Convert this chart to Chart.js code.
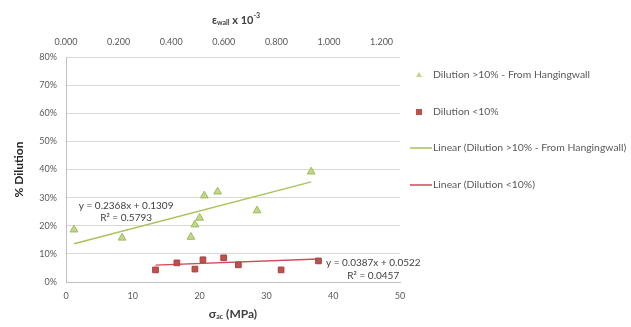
<!DOCTYPE html>
<html>
<head>
<meta charset="utf-8">
<script src="https://cdn.jsdelivr.net/npm/chart.js@4/dist/chart.umd.min.js"></script>
<style>
  html, body { margin: 0; padding: 0; background: #fff; }
  #wrap { width: 631px; height: 327px; }
</style>
</head>
<body>
<div id="wrap"><canvas id="c" width="631" height="327"></canvas></div>
<script>
// data (x = stress in MPa, y = dilution in %)
const hangX = [1.2, 8.4, 18.7, 19.3, 20.0, 20.7, 22.7, 28.6, 36.7];
const hangY = [18.6, 15.7, 16.0, 20.4, 22.8, 30.7, 32.1, 25.4, 39.2];
const lowX = [13.4, 16.6, 19.3, 20.5, 23.6, 25.8, 32.2, 37.8];
const lowY = [4.3, 6.8, 4.6, 7.9, 8.6, 6.1, 4.3, 7.5];
// trendline end points
const hangTrendX = [1.2, 36.7];
const hangTrendY = [13.6, 35.6];
const lowTrendX = [13.4, 37.8];
const lowTrendY = [6.0, 8.2];
const yTicks = [0, 10, 20, 30, 40, 50, 60, 70, 80];
const xTicks = [0, 10, 20, 30, 40, 50];
const topTicks = [0, 0.2, 0.4, 0.6, 0.8, 1.0, 1.2];
const seriesNames = ['Dilution >10% - From Hangingwall', 'Dilution <10%',
  'Linear (Dilution >10% - From Hangingwall)', 'Linear (Dilution <10%)'];
const equations = [
  { text: 'y = 0.2368x + 0.1309', x: 9.0, y: 27.0 },
  { text: 'R² = 0.5793', x: 9.0, y: 22.8 },
  { text: 'y = 0.0387x + 0.0522', x: 46.0, y: 6.8 },
  { text: 'R² = 0.0457', x: 46.0, y: 2.1 }
];

const toPts = (xs, ys) => xs.map((x, i) => ({ x: x, y: ys[i] }));
const FONT = 'Lato, "Open Sans", sans-serif';
const GREEN = '#9bbb59';
const RED = '#c0504d';

// rich text helper for sub/superscripts
function drawRich(ctx, parts, cx, cy) {
  let w = 0;
  parts.forEach(p => { ctx.font = p.font; w += ctx.measureText(p.t).width; });
  let x = cx - w / 2;
  parts.forEach(p => {
    ctx.font = p.font;
    ctx.fillText(p.t, x, cy + (p.dy || 0));
    x += ctx.measureText(p.t).width;
  });
}

const extras = {
  id: 'extras',
  afterDraw(chart) {
    const ctx = chart.ctx;
    const xs = chart.scales.x, ys = chart.scales.y, area = chart.chartArea;
    ctx.save();
    ctx.textBaseline = 'middle';
    ctx.textAlign = 'left';
    ctx.fillStyle = '#404040';
    // equations
    equations.forEach(e => {
      ctx.font = '10px ' + FONT;
      const w = ctx.measureText(e.text).width;
      ctx.fillText(e.text, xs.getPixelForValue(e.x) - w / 2, ys.getPixelForValue(e.y));
    });
    // axis titles
    const cx = (area.left + area.right) / 2;
    drawRich(ctx, [
      { t: 'ε', font: 'bold 11px ' + FONT },
      { t: 'wall', font: 'bold 7px ' + FONT, dy: 3 },
      { t: ' x 10', font: 'bold 11px ' + FONT },
      { t: '-3', font: 'bold 7px ' + FONT, dy: -4 }
    ], cx + 3, 20);
    drawRich(ctx, [
      { t: 'σ', font: 'bold 12px ' + FONT },
      { t: 'ac', font: 'bold 7px ' + FONT, dy: 3 },
      { t: ' (MPa)', font: 'bold 12px ' + FONT }
    ], cx, 314);
    // legend
    const ds = chart.data.datasets;
    const rows = [75, 112, 148, 185];
    ds.forEach((d, i) => {
      const y = rows[i];
      if (d.showLine) {
        ctx.strokeStyle = d.borderColor;
        ctx.lineWidth = 1.5;
        ctx.beginPath();
        ctx.moveTo(410, y);
        ctx.lineTo(432, y);
        ctx.stroke();
      } else if (d.pointStyle === 'triangle') {
        ctx.fillStyle = d.backgroundColor;
        ctx.beginPath();
        ctx.moveTo(419, y - 3);
        ctx.lineTo(422, y + 2);
        ctx.lineTo(416, y + 2);
        ctx.closePath();
        ctx.fill();
      } else {
        ctx.fillStyle = d.backgroundColor;
        ctx.fillRect(416, y - 3, 6, 6);
      }
      ctx.fillStyle = '#595959';
      ctx.font = '10.4px ' + FONT;
      ctx.fillText(d.label, 433, y);
    });
    ctx.restore();
  }
};

new Chart(document.getElementById('c'), {
  type: 'scatter',
  data: {
    datasets: [
      { label: seriesNames[0], data: toPts(hangX, hangY), pointStyle: 'triangle',
        backgroundColor: '#c4d68c', borderColor: GREEN, borderWidth: 1, pointRadius: 4.5 },
      { label: seriesNames[1], data: toPts(lowX, lowY), pointStyle: 'rect',
        backgroundColor: RED, borderColor: '#a8403d', borderWidth: 1, pointRadius: 4 },
      { label: seriesNames[2], data: toPts(hangTrendX, hangTrendY), showLine: true,
        borderColor: '#a9c25a', borderWidth: 1.5, pointRadius: 0 },
      { label: seriesNames[3], data: toPts(lowTrendX, lowTrendY), showLine: true,
        borderColor: '#d04a58', borderWidth: 1.5, pointRadius: 0 }
    ]
  },
  options: {
    responsive: false,
    animation: false,
    layout: { padding: { left: 0, right: 231, top: 0, bottom: 0 } },
    plugins: { legend: { display: false }, tooltip: { enabled: false } },
    scales: {
      x: {
        type: 'linear', position: 'bottom', min: 0, max: 50,
        afterBuildTicks: s => { s.ticks = xTicks.map(v => ({ value: v })); },
        afterFit: s => { s.height = 45; },
        grid: { display: false, drawTicks: false },
        border: { display: true, color: '#bfbfbf' },
        ticks: { padding: 9, color: '#595959', font: { family: FONT, size: 9 } }
      },
      x2: {
        type: 'linear', position: 'top', min: 0, max: 1.27,
        afterBuildTicks: s => { s.ticks = topTicks.map(v => ({ value: v })); },
        afterFit: s => { s.height = 57; },
        grid: { display: false, drawTicks: false },
        border: { display: false },
        ticks: { padding: 10, color: '#595959', font: { family: FONT, size: 9 },
          callback: v => v.toFixed(3) }
      },
      y: {
        min: 0, max: 80,
        afterBuildTicks: s => { s.ticks = yTicks.map(v => ({ value: v })); },
        afterFit: s => { s.width = 66; },
        grid: { color: '#d9d9d9', drawTicks: false },
        border: { display: true, color: '#bfbfbf' },
        ticks: { padding: 9, color: '#595959', font: { family: FONT, size: 9 },
          callback: v => v + '%' },
        title: { display: true, text: '% Dilution', color: '#262626',
          font: { family: FONT, size: 12, weight: 'bold' }, padding: { top: 12 } }
      }
    }
  },
  plugins: [extras]
});
</script>
</body>
</html>
